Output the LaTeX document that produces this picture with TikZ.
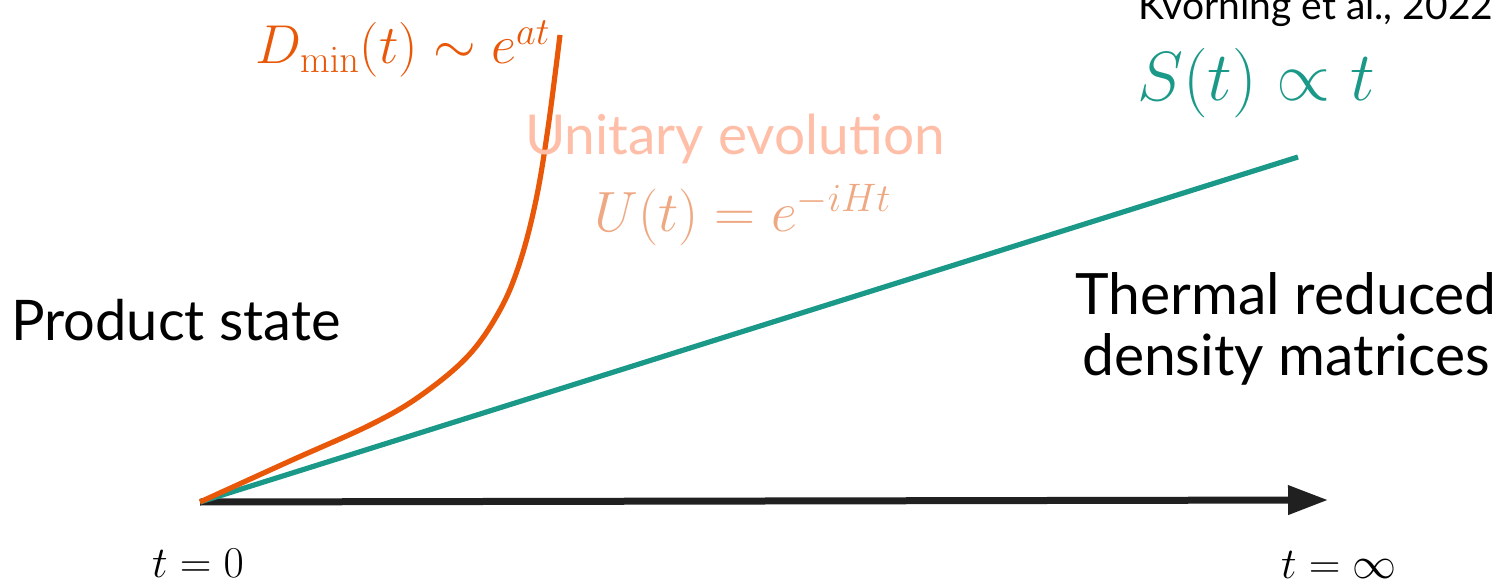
\documentclass[tikz,border=0pt]{standalone}
\usepackage{fix-cm}
\usepackage[no-math]{fontspec}
\setmainfont{Lato}
\usetikzlibrary{arrows.meta}
\definecolor{dorange}{RGB}{232,88,8}
\definecolor{steal}{RGB}{26,152,136}
\definecolor{usalmon}{RGB}{255,190,168}
\definecolor{uformula}{RGB}{238,168,130}
\definecolor{axisgray}{RGB}{32,32,32}
\tikzset{
  label text/.style={inner sep=0pt,font=\fontsize{28}{34}\selectfont},
  math label/.style={inner sep=0pt,font=\fontsize{27.4}{32}\selectfont}
}
\begin{document}
\begin{tikzpicture}[x=0.5pt,y=-0.5pt]
  \useasboundingbox (0,0) rectangle (1503,582);
  \clip (0,0) rectangle (1503,582);
  \coordinate (start) at (200,502);
  \coordinate (axisend) at (1328,500);
  \coordinate (send) at (1298,157);
  \coordinate (dend) at (560,35);
  % time axis
  \draw[axisgray,line width=3.5pt,-{Triangle[length=20pt,width=14pt]}] (start) -- (axisend);
  % entanglement growth
  \draw[steal,line width=2.6pt] (start) -- (send);
  % bond dimension
  \draw[dorange,line width=2.6pt,line join=round] plot[smooth,tension=0.6] coordinates
    {(start) (290,461) (370,425) (420,396) (468,356) (500,310) (520,262) (536,200) (548,128) (dend)};
  \node[label text,anchor=base,font=\fontsize{19.5}{24}\selectfont] (ref) at (1316,20) {Kvorning et al., 2022};
  \node[math label,dorange,anchor=base] (dmin) at (403,64) {$D_{\min}(t)\sim e^{at}$};
  \node[math label,steal,anchor=base,font=\fontsize{34.8}{40}\selectfont] (entropy) at (1256,101) {$S(t)\propto t$};
  \node[label text,usalmon,anchor=base,font=\fontsize{27.5}{32}\selectfont] (unitary) at (735,155) {Unitary evolution};
  \node[math label,uformula,anchor=base,font=\fontsize{28.4}{32}\selectfont] (uop) at (743,232) {$U(t)=e^{-iHt}$};
  \node[label text,anchor=base] (product) at (176,341) {Product state};
  \node[label text,anchor=base,align=center,font=\fontsize{28.5}{30.5}\selectfont] (thermal) at (1286,375) {Thermal reduced\\density matrices};
  \node[math label,anchor=base,font=\fontsize{22}{26}\selectfont] (tzero) at (198,577) {$t=0$};
  \node[math label,anchor=base,font=\fontsize{22}{26}\selectfont] (tinf) at (1339,578) {$t=\infty$};
\end{tikzpicture}
\end{document}
